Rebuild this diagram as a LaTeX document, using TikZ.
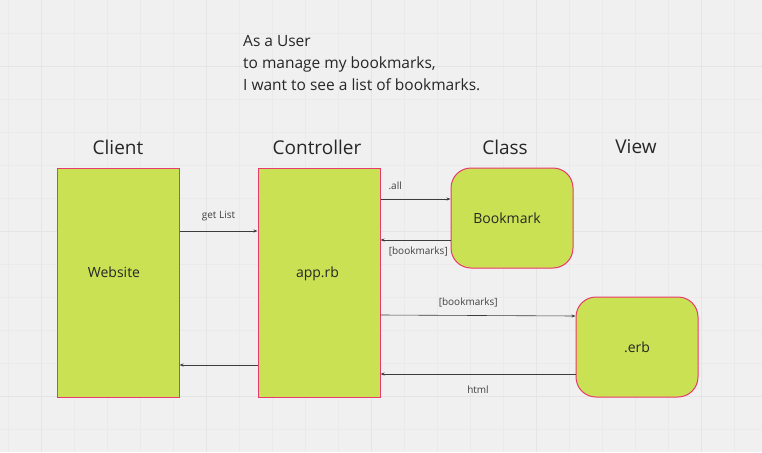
\documentclass[tikz,border=0pt]{standalone}
\usepackage{fontspec}
\setmainfont{Open Sans}
\usetikzlibrary{arrows.meta}
\definecolor{board}{RGB}{240,240,240}
\definecolor{gridminor}{RGB}{234,234,234}
\definecolor{gridmajor}{RGB}{229,229,229}
\definecolor{stickyfill}{RGB}{203,225,84}
\definecolor{stickyline}{RGB}{232,58,108}
\definecolor{flowline}{RGB}{60,60,60}

\newcommand{\lifted}[2]{\raisebox{#1}[0pt][0pt]{#2}}

\tikzset{
  block/.style={draw=stickyline, fill=stickyfill, line width=1pt, inner sep=0pt,
    font=\fontsize{14}{16}\selectfont, text=black!85},
  tallblock/.style={block, minimum width=122pt, minimum height=229pt},
  roundblock/.style={block, rounded corners=20pt, minimum width=122pt, minimum height=100pt},
  heading/.style={font=\fontsize{19}{22}\selectfont, text=black!85},
  flow/.style={draw=flowline, line width=0.6pt, -{Stealth[length=4pt,width=3pt]}},
  msg/.style={font=\fontsize{10}{12}\selectfont, text=black!75, inner sep=0pt}
}

\begin{document}
\begin{tikzpicture}[x=1pt, y=-1pt]

% board with grid
\fill[board] (0,0) rectangle (762,452);
\useasboundingbox (0,0) rectangle (762,452);
\foreach \i in {0,...,22} {
  \draw[gridminor, line width=0.6pt] (8.5+33*\i,0) -- (8.5+33*\i,452);
}
\foreach \j in {1,...,13} {
  \draw[gridminor, line width=0.6pt] (0,33*\j) -- (762,33*\j);
}
\foreach \i in {0,...,4} {
  \draw[gridmajor, line width=0.9pt] (41.5+165*\i,0) -- (41.5+165*\i,452);
}
\foreach \j in {0,1,2} {
  \draw[gridmajor, line width=0.9pt] (0,66+165*\j) -- (762,66+165*\j);
}

% user story
\node[anchor=north west, align=left, inner sep=0pt, text=black!85,
  font=\fontsize{15.5}{22}\selectfont] (story) at (243,35)
  {As a User\\to manage my bookmarks,\\I want to see a list of bookmarks.};

% column headings
\node[heading] (client) at (118,147) {Client};
\node[heading] (controller) at (317,147) {Controller};
\node[heading] (class) at (505,147) {Class};
\node[heading] (view) at (636,147) {View};

% stickies
\node[tallblock] (website) at (118,282.5) {\hspace*{-8pt}\lifted{5.5pt}{Website}};
\node[tallblock] (app) at (319,282.5) {\hspace*{-3pt}\lifted{5.5pt}{app.rb}};
\node[roundblock] (bookmark) at (512,218) {\hspace*{-10pt}Bookmark};
\node[roundblock] (erb) at (637,347) {.erb};

% messages
\draw[flow] ([yshift=51.5pt]website.east) -- ([yshift=51.5pt]app.west)
  node[msg, midway, yshift=15pt] {get List};
\draw[flow] ([yshift=83.5pt]app.east) -- ([yshift=19pt]bookmark.west)
  node[msg, pos=0.21, yshift=13pt] {.all};
\draw[flow] ([yshift=-22pt]bookmark.west) -- ([yshift=42.5pt]app.east)
  node[msg, pos=0.46, yshift=-11pt] {[bookmarks]};
\draw[flow] ([yshift=-32.5pt]app.east) -- ([yshift=31pt]erb.west)
  node[msg, pos=0.45, yshift=13pt] {[bookmarks]};
\draw[flow] ([yshift=-27pt]erb.west) -- ([yshift=-91.5pt]app.east)
  node[msg, midway, yshift=-16pt] {html};
\draw[flow] ([yshift=-82.5pt]app.west) -- ([yshift=-82.5pt]website.east);

\end{tikzpicture}
\end{document}
